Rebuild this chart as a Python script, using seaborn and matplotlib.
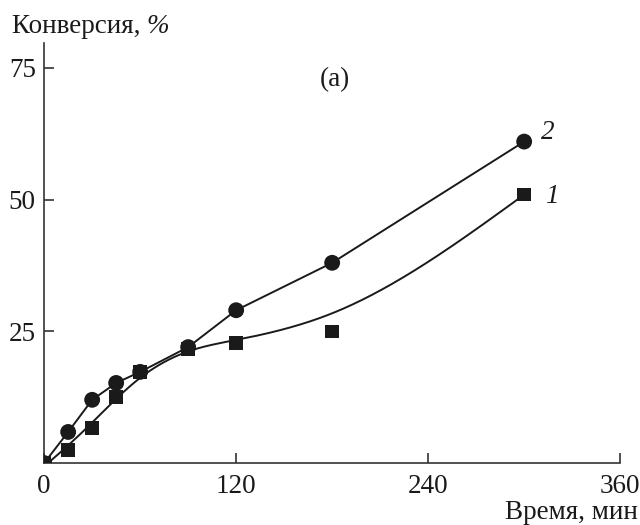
import numpy as np
import matplotlib
matplotlib.use("Agg")
import matplotlib.pyplot as plt
import seaborn as sns

time_min = [0, 15, 30, 45, 60, 90, 120, 180, 300]
conv_1 = [0, 2.5, 6.7, 12.5, 17.3, 21.6, 22.8, 25.0, 51.0]
conv_2 = [0, 5.9, 12.0, 15.2, 17.3, 22.0, 29.0, 38.0, 61.0]
x_ticks = [0, 120, 240, 360]
y_ticks = [25, 50, 75]


def whittaker(x, y, w, lam):
    """Penalised (smoothing-spline-like) curve through the measured points."""
    x = np.asarray(x, int); y = np.asarray(y, float)
    g = np.arange(x[0], x[-1] + 1)
    n = len(g)
    W = np.zeros(n); Y = np.zeros(n)
    W[x - x[0]] = w; Y[x - x[0]] = y
    D = np.diff(np.eye(n), 2, axis=0)
    f = np.linalg.solve(np.diag(W) + lam * D.T @ D, W * Y)
    return g, f


sns.set_style("ticks")
plt.rcParams['font.family'] = ['Liberation Serif', 'DejaVu Serif']
FS = 19.5
INK = "#1a1a1a"

fig = plt.figure(figsize=(6.4, 5.25), dpi=100)
ax = fig.add_axes([0.069, 0.118, 0.9, 0.80])

w1 = np.ones(len(time_min)); w1[7] = 0.05
xs1, ys1 = whittaker(time_min, conv_1, w1, 5000)

sns.lineplot(x=xs1, y=ys1, ax=ax, color=INK, lw=1.4, sort=False)
sns.lineplot(x=time_min, y=conv_2, ax=ax, color=INK, lw=1.4, sort=False)
sns.scatterplot(x=time_min, y=conv_1, ax=ax, marker="s", s=95, color=INK,
                edgecolor="none", zorder=4)
sns.scatterplot(x=time_min, y=conv_2, ax=ax, marker="o", s=130, color=INK,
                edgecolor="none", zorder=4)

ax.set_xlim(0, 360)
ax.set_ylim(0, 79.7)
ax.set_xticks(x_ticks)
ax.set_yticks(y_ticks)
ax.set_xlabel("")
ax.set_ylabel("")
sns.despine(ax=ax)
for s in ["left", "bottom"]:
    ax.spines[s].set_linewidth(1.2)
    ax.spines[s].set_color("#333333")
ax.tick_params(axis="both", direction="in", length=7, width=1.2, colors="#333333",
               labelcolor=INK, labelsize=FS)
ax.tick_params(axis="x", pad=8)
ax.tick_params(axis="y", pad=6)

t1 = fig.text(0.018, 0.925, "Конверсия, ", fontsize=FS, ha="left", va="bottom", color=INK)
fig.canvas.draw()
bb = t1.get_window_extent(renderer=fig.canvas.get_renderer())
fig.text(bb.x1 / fig.bbox.width, 0.925, "%", fontsize=FS, ha="left", va="bottom",
         style="italic", color=INK)
fig.text(0.997, 0.0, "Время, мин", fontsize=FS, ha="right", va="bottom", color=INK)
ax.text(182, 72.7, "(a)", fontsize=FS, ha="center", va="center", color=INK)
ax.text(310.5, 62.8, "2", fontsize=FS, style="italic", ha="left", va="center", color=INK)
ax.text(313, 50.6, "1", fontsize=FS, style="italic", ha="left", va="center", color=INK)

fig.savefig("out.png", dpi=100)
